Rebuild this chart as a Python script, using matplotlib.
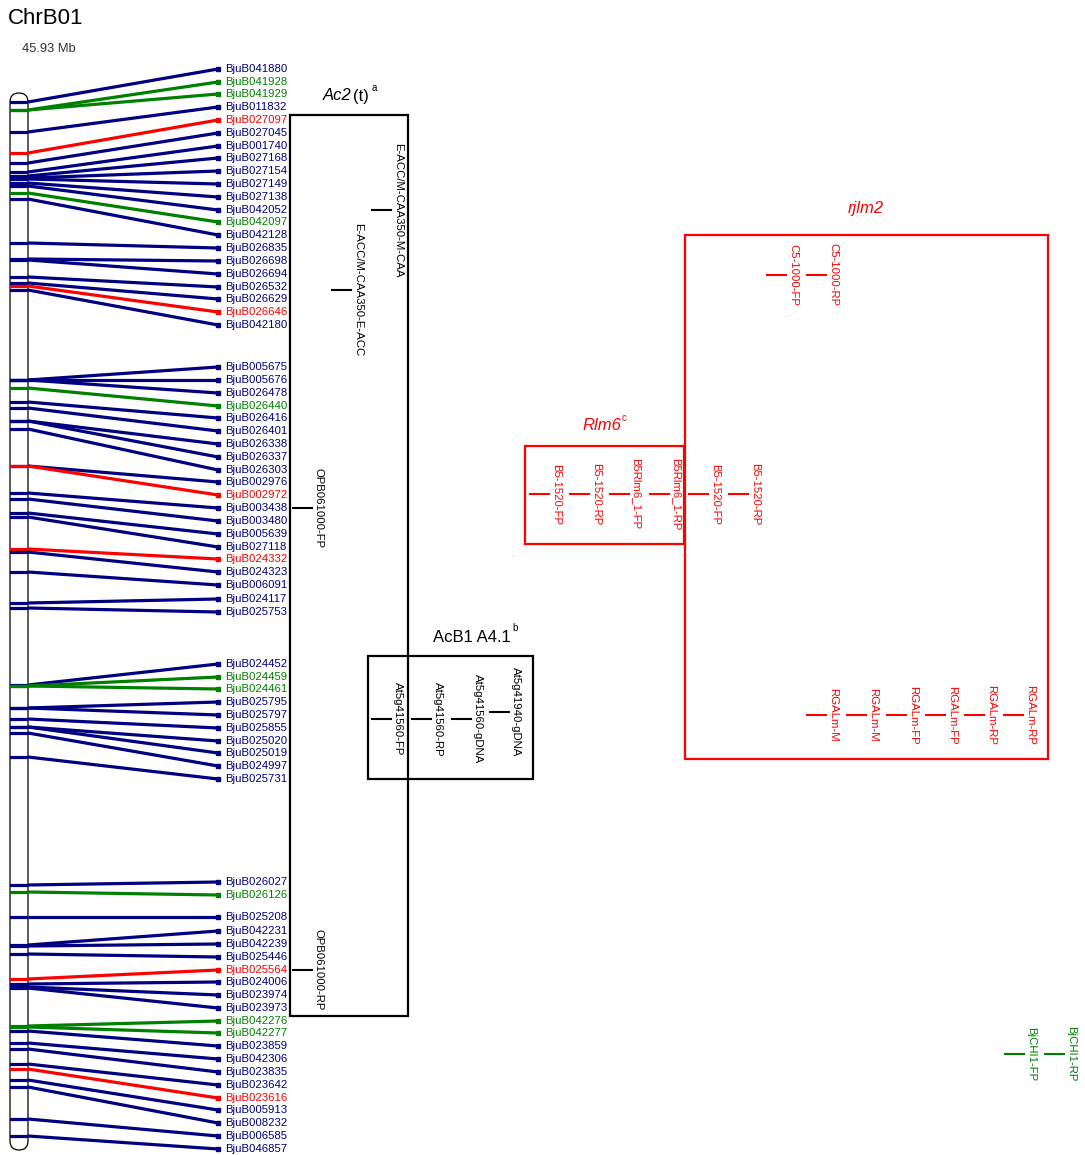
import matplotlib
matplotlib.use("Agg")
from matplotlib import pyplot as plt
from matplotlib.patches import FancyBboxPatch, Rectangle

plt.rcParams["font.family"] = ["Liberation Sans", "DejaVu Sans"]

# chromosome genes: name, colour group, label row, position on chromosome
genes = ["BjuB041880", "BjuB041928", "BjuB041929", "BjuB011832", "BjuB027097", "BjuB027045",
         "BjuB001740", "BjuB027168", "BjuB027154", "BjuB027149", "BjuB027138", "BjuB042052",
         "BjuB042097", "BjuB042128", "BjuB026835", "BjuB026698", "BjuB026694", "BjuB026532",
         "BjuB026629", "BjuB026646", "BjuB042180",
         "BjuB005675", "BjuB005676", "BjuB026478", "BjuB026440", "BjuB026416", "BjuB026401",
         "BjuB026338", "BjuB026337", "BjuB026303", "BjuB002976", "BjuB002972", "BjuB003438",
         "BjuB003480", "BjuB005639", "BjuB027118", "BjuB024332", "BjuB024323", "BjuB006091",
         "BjuB024117", "BjuB025753",
         "BjuB024452", "BjuB024459", "BjuB024461", "BjuB025795", "BjuB025797", "BjuB025855",
         "BjuB025020", "BjuB025019", "BjuB024997", "BjuB025731",
         "BjuB026027", "BjuB026126", "BjuB025208", "BjuB042231", "BjuB042239", "BjuB025446",
         "BjuB025564", "BjuB024006", "BjuB023974", "BjuB023973", "BjuB042276", "BjuB042277",
         "BjuB023859", "BjuB042306", "BjuB023835", "BjuB023642", "BjuB023616", "BjuB005913",
         "BjuB008232", "BjuB006585", "BjuB046857"]
gene_group = ["b", "g", "g", "b", "r", "b",
              "b", "b", "b", "b", "b", "b",
              "g", "b", "b", "b", "b", "b",
              "b", "r", "b",
              "b", "b", "b", "g", "b", "b",
              "b", "b", "b", "b", "r", "b",
              "b", "b", "b", "r", "b", "b",
              "b", "b",
              "b", "g", "g", "b", "b", "b",
              "b", "b", "b", "b",
              "b", "g", "b", "b", "b", "b",
              "r", "b", "b", "b", "g", "g",
              "b", "b", "b", "b", "r", "b",
              "b", "b", "b"]
label_row = [69, 82, 94, 107, 120, 133,
             146, 158, 171, 184, 197, 210,
             222, 235, 248, 261, 274, 287,
             299, 312, 325,
             367, 380, 393, 406, 418, 431,
             444, 457, 470, 482, 495, 508,
             521, 534, 547, 559, 572, 585,
             599, 612,
             664, 677, 689, 702, 715, 728,
             741, 753, 766, 779,
             882, 895, 917, 931, 944, 957,
             970, 982, 995, 1008, 1021, 1033,
             1046, 1059, 1072, 1085, 1098, 1110,
             1123, 1136, 1149]
chrom_pos = [102, 110, 110, 132, 153, 163,
             172, 176, 178, 179, 183, 186,
             193, 199, 243, 259, 260, 277,
             283, 286, 290,
             380, 380, 380, 388, 402, 408,
             421, 421, 429, 466, 466, 493,
             499, 513, 517, 549, 552, 572,
             603, 608,
             685, 686, 686, 708, 708, 719,
             727, 727, 733, 757,
             885, 892, 917, 945, 946, 954,
             979, 984, 987, 988, 1026, 1027,
             1031, 1043, 1049, 1064, 1069, 1080,
             1087, 1119, 1136]

# QTL marker groups
ac2_markers = ["E-ACC/M-CAA350-M-CAA", "E-ACC/M-CAA350-E-ACC", "OPB061000-FP", "OPB061000-RP"]
ac2_pos = [210, 290, 508, 970]
acb1_markers = ["At5g41560-FP", "At5g41560-RP", "At5g41560-gDNA", "At5g41940-gDNA"]
acb1_pos = [719, 719, 719, 712]
rlm6_markers = ["B5-1520-FP", "B5-1520-RP", "B5Rlm6_1-FP", "B5Rlm6_1-RP", "B5-1520-FP", "B5-1520-RP"]
rlm6_pos = [494, 494, 494, 494, 494, 494]
rjlm2_top = ["C5-1000-FP", "C5-1000-RP"]
rjlm2_top_pos = [275, 275]
rjlm2_bottom = ["RGALm-M", "RGALm-M", "RGALm-FP", "RGALm-FP", "RGALm-RP", "RGALm-RP"]
rjlm2_bottom_pos = [715, 715, 715, 715, 715, 715]
chi_markers = ["BjCHI1-FP", "BjCHI1-RP"]
chi_pos = [1054, 1054]

colors = {"b": "#000080", "g": "#008000", "r": "#ff0000"}

fig = plt.figure(figsize=(10.85, 11.55), dpi=100)
ax = fig.add_axes([0, 0, 1, 1])
ax.set_xlim(0, 1085)
ax.set_ylim(1155, 0)
ax.axis("off")

# chromosome body
chrom = FancyBboxPatch((10, 93), 18, 1057, boxstyle="round,pad=0,rounding_size=9",
                       facecolor="white", edgecolor="black", lw=0.9, zorder=2)
ax.add_patch(chrom)

for name, grp, ly, cy in zip(genes, gene_group, label_row, chrom_pos):
    c = colors[grp]
    seg, = ax.plot([0, 28], [cy, cy], color=c, lw=2.3, solid_capstyle="butt", zorder=3)
    seg.set_clip_path(chrom)
    ax.plot([28, 218], [cy, ly], color=c, lw=2.3, solid_capstyle="butt", zorder=3)
    ax.plot([218], [ly], marker="s", ms=2.6, color=c, zorder=3)
    ax.text(225, ly, name, color=c, fontsize=8.2, va="center", ha="left")

ax.text(8, 18, "ChrB01", fontsize=16, va="center", ha="left")
ax.text(22, 49, "45.93 Mb", fontsize=9.3, va="center", ha="left", color="#333333")


def marker_col(names, pos, tick_x, color):
    for name, y, x0 in zip(names, pos, tick_x):
        ax.plot([x0, x0 + 19], [y, y], color=color, lw=1.5, zorder=4)
        ax.text(x0 + 26, y, name, rotation=270, fontsize=8.2, color=color,
                ha="center", va="center", zorder=4)


# Ac2(t)
ax.add_patch(Rectangle((290, 115), 118, 901, fill=False, edgecolor="black", lw=1.6, zorder=4))
ax.text(352, 96, "Ac2", fontsize=12, style="italic", ha="right", va="center")
ax.text(353, 96, "(t)", fontsize=12, ha="left", va="center")
ax.text(372, 88, "a", fontsize=7, ha="left", va="center")
marker_col(ac2_markers, ac2_pos, [372, 332, 293, 293], "black")

# AcB1 A4.1
ax.add_patch(Rectangle((368, 656), 165, 123, fill=False, edgecolor="black", lw=1.6, zorder=4))
ax.text(511, 637, "AcB1 A4.1", fontsize=12, ha="right", va="center")
ax.text(512, 628, "b", fontsize=7, ha="left", va="center")
marker_col(acb1_markers, acb1_pos, [372, 412, 452, 490], "black")

# Rlm6 and rjlm2
red = "#ff0000"
ax.add_patch(Rectangle((525, 446), 159, 98, fill=False, edgecolor=red, lw=1.6, zorder=4))
ax.text(621, 426, "Rlm6", fontsize=12, style="italic", color=red, ha="right", va="center")
ax.text(622, 418, "c", fontsize=7, color=red, ha="left", va="center")
marker_col(rlm6_markers, rlm6_pos, [530, 570, 610, 650, 689, 729], red)

ax.add_patch(Rectangle((685, 235), 363, 524, fill=False, edgecolor=red, lw=1.6, zorder=4))
ax.text(866, 208, "rjlm2", fontsize=12, style="italic", color=red, ha="center", va="center")
marker_col(rjlm2_top, rjlm2_top_pos, [767, 807], red)
marker_col(rjlm2_bottom, rjlm2_bottom_pos, [807, 847, 887, 926, 965, 1004], red)

# BjCHI1
marker_col(chi_markers, chi_pos, [1005, 1045], "#008000")

fig.savefig("out.png", dpi=100)
